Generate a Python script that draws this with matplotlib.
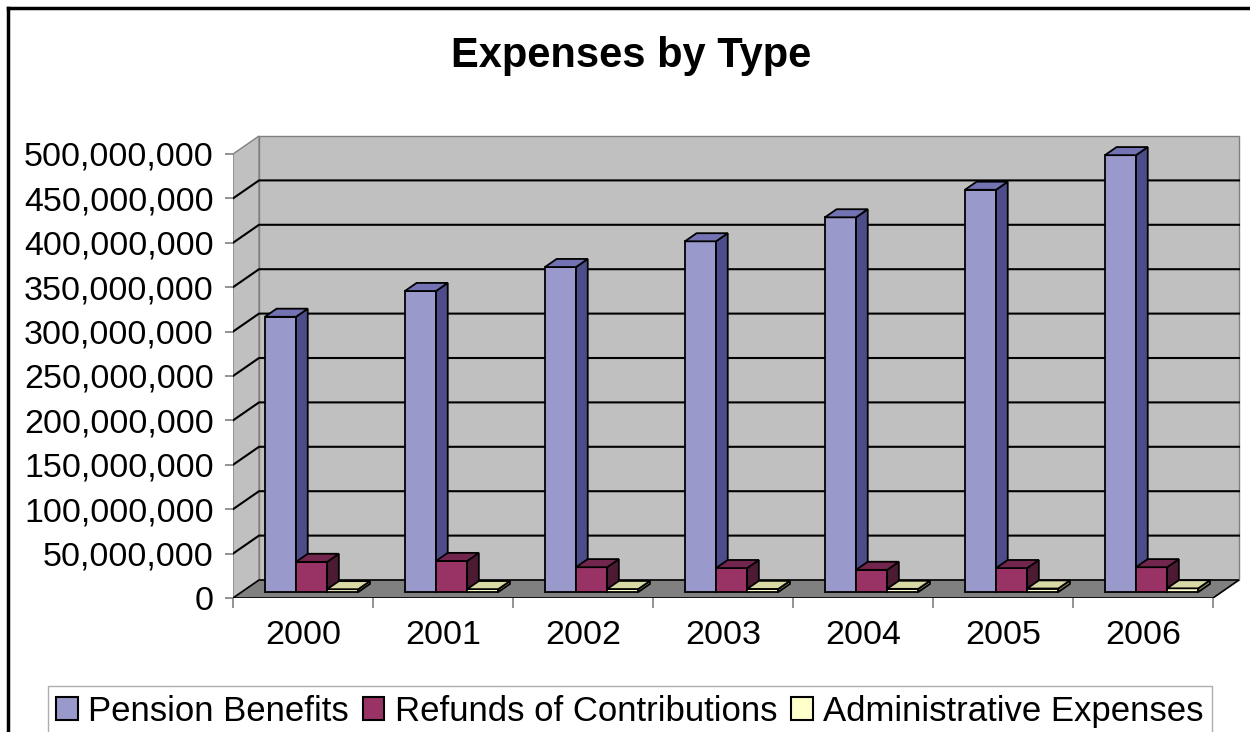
import numpy as np
import matplotlib.pyplot as plt
from matplotlib.patches import Polygon, Rectangle, Patch
from matplotlib.lines import Line2D
from matplotlib.ticker import FuncFormatter

plt.rcParams['font.family'] = ['Liberation Sans', 'DejaVu Sans']

years = ['2000', '2001', '2002', '2003', '2004', '2005', '2006']
pension = [310e6, 339e6, 366e6, 395e6, 422e6, 453e6, 492e6]
refunds = [34e6, 35e6, 28e6, 27e6, 25e6, 27e6, 28e6]
admin = [3.2e6, 3.3e6, 3.4e6, 3.5e6, 3.6e6, 4.0e6, 4.2e6]
names = ['Pension Benefits', 'Refunds of Contributions', 'Administrative Expenses']
yticks = np.arange(0, 500e6 + 1, 50e6)

# front / side / top colours for each series
colors = [('#9999cc', '#4d4d8c', '#7373b3'),
          ('#993366', '#4d1a33', '#73264d'),
          ('#ffffcc', '#8c8c66', '#d9d9a6')]

W, H = 1250, 732
fig = plt.figure(figsize=(W / 100, H / 100), dpi=100)

# 140 px per category, 0.888 px per million
ax = fig.add_axes([233 / W, (H - 598) / H, 1010 / W, 468 / H])
ax.set_xlim(0, 1010 / 140)
ax.set_ylim(0, 468 / 0.888 * 1e6)
for s in ax.spines.values():
    s.set_visible(False)

n = len(years)
top = yticks[-1]
DX, DY = 26 / 140, 18 / 0.888 * 1e6   # depth of the 3d box
wall = '#c0c0c0'

ax.add_patch(Rectangle((DX, DY), n, top, fc=wall, ec='#808080', lw=1, zorder=1))
ax.add_patch(Polygon([(0, 0), (0, top), (DX, top + DY), (DX, DY)],
                     closed=True, fc=wall, ec='#808080', lw=1, zorder=1))
ax.add_patch(Polygon([(0, 0), (n, 0), (n + DX, DY), (DX, DY)],
                     closed=True, fc='#808080', ec='black', lw=1.2, zorder=2))
for v in yticks[1:-1]:
    ax.plot([0, DX, n + DX], [v, v + DY, v + DY], color='black', lw=1.5, zorder=1.5)

# bars, gap width 150%
w = 1 / 4.5
f0, bd = 0.33, 0.45
for i in range(n):
    for k, vals in enumerate([pension, refunds, admin]):
        val = vals[i]
        fc, sc, tc = colors[k]
        x0 = i + 0.75 * w + k * w + f0 * DX
        y0 = f0 * DY
        ddx, ddy = bd * DX, bd * DY
        ax.add_patch(Rectangle((x0, y0), w, val, fc=fc, ec='black', lw=1.3, zorder=3))
        ax.add_patch(Polygon([(x0 + w, y0), (x0 + w, y0 + val),
                              (x0 + w + ddx, y0 + val + ddy), (x0 + w + ddx, y0 + ddy)],
                             closed=True, fc=sc, ec='black', lw=1.3, zorder=3))
        ax.add_patch(Polygon([(x0, y0 + val), (x0 + w, y0 + val),
                              (x0 + w + ddx, y0 + val + ddy), (x0 + ddx, y0 + val + ddy)],
                             closed=True, fc=tc, ec='black', lw=1.3, zorder=3))

ax.set_yticks(yticks)
ax.yaxis.set_major_formatter(FuncFormatter(lambda v, p: '{:,.0f}'.format(v)))
ax.tick_params(axis='y', length=6, width=1.2, color='#808080', pad=8, labelsize=24.5)

ax.set_xticks(np.arange(n + 1))
ax.set_xticklabels([])
ax.set_xticks(np.arange(n) + 0.5, minor=True)
ax.set_xticklabels(years, minor=True)
ax.tick_params(axis='x', which='major', length=7, width=1.2, color='#808080')
ax.tick_params(axis='x', which='minor', length=0, pad=16, labelsize=24.5)

fig.text(631 / W, 1 - 67 / H, 'Expenses by Type', ha='center', va='baseline',
         fontsize=30, fontweight='bold')

handles = [Patch(fc=c[0], ec='black', lw=1.5) for c in colors]
leg = fig.legend(handles, names, loc='upper center', bbox_to_anchor=(630 / W, 1 - 686 / H),
                 ncol=3, fontsize=25, fancybox=False, edgecolor='#999999',
                 handlelength=0.62, handleheight=0.66, handletextpad=0.3,
                 columnspacing=0.4, borderpad=0.25, borderaxespad=0)
leg.get_frame().set_linewidth(1)

# outer chart border (left and top visible)
fig.add_artist(Line2D([8 / W, 8 / W], [0, 1 - 8 / H], color='black', lw=2.5,
                      transform=fig.transFigure))
fig.add_artist(Line2D([8 / W, 1], [1 - 8 / H, 1 - 8 / H], color='black', lw=2.5,
                      transform=fig.transFigure))

fig.savefig('out.png', dpi=100)
